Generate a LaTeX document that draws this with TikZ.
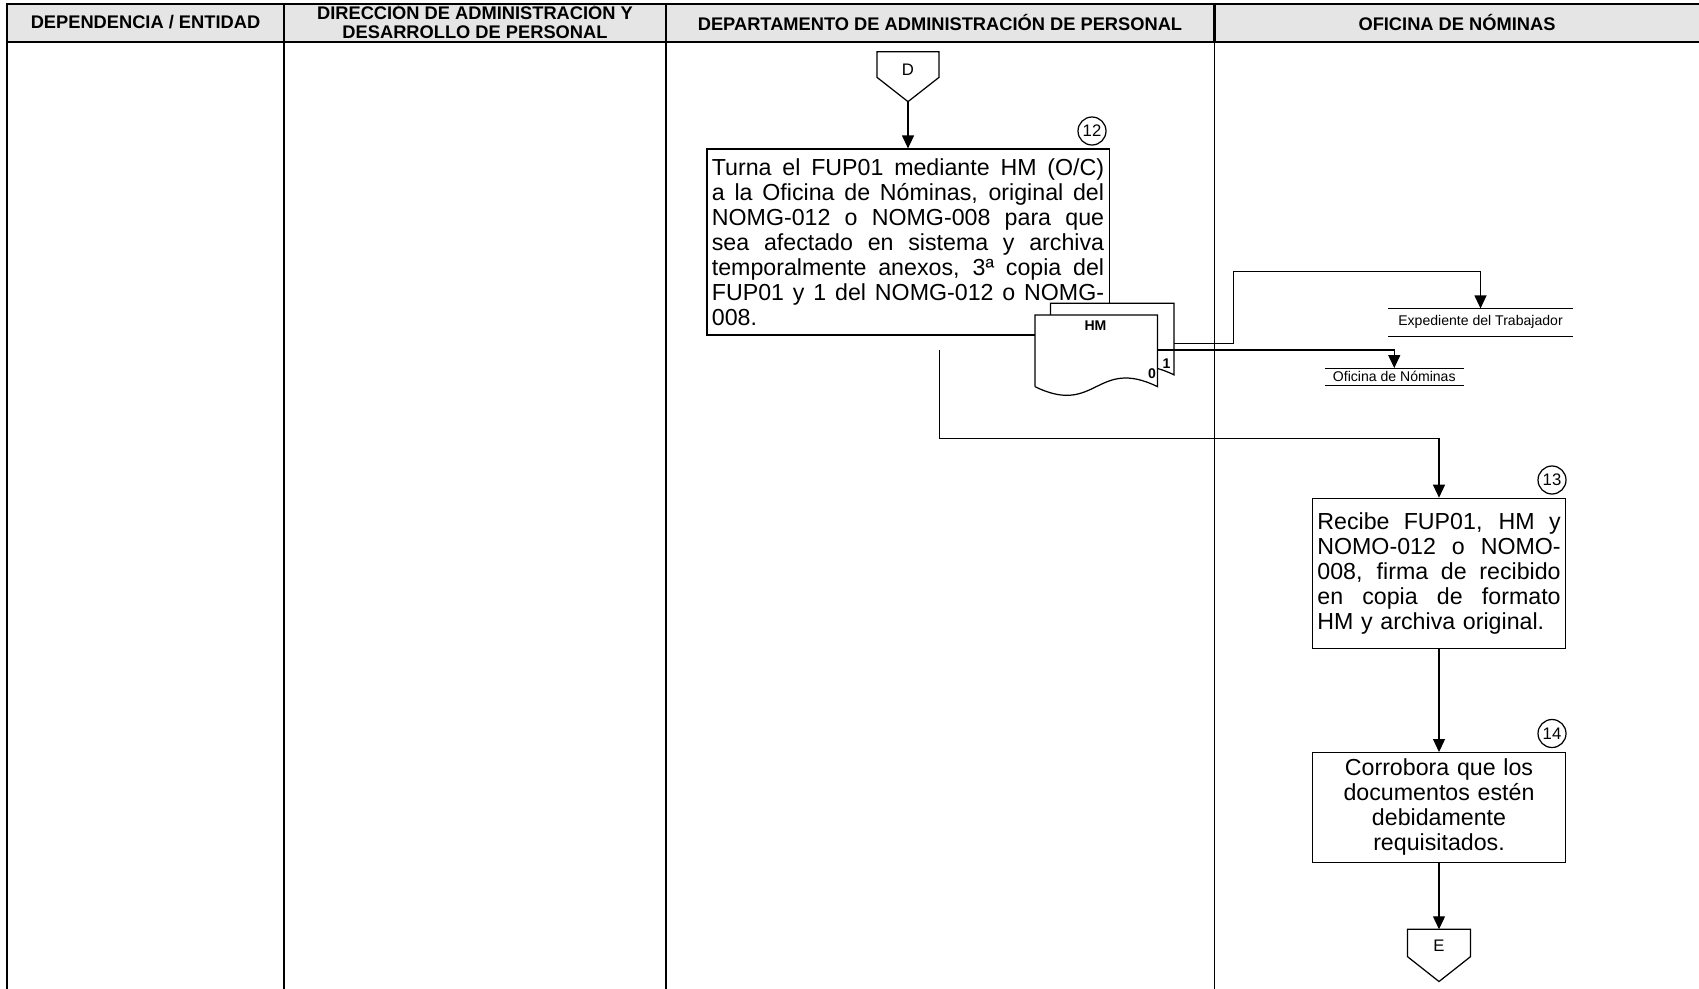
\documentclass[tikz,border=0pt]{standalone}
\usepackage{fontspec}
\setmainfont{Liberation Sans}
\usetikzlibrary{arrows.meta}

\newcommand{\jline}[2]{\makebox[#1][s]{\spaceskip=0.278em plus 2em\relax #2}}

\begin{document}
\begin{tikzpicture}[
    line width=0.7pt,
    arr/.style={-{Triangle[length=0.26cm,width=0.24cm]}},
    box/.style={rectangle, draw, fill=white, inner xsep=0.1cm, inner ysep=0cm, align=left, font=\fontsize{13.2}{14.2}\selectfont},
    head/.style={align=center, inner sep=0pt, font=\bfseries\fontsize{10.4}{10.5}\selectfont},
    num/.style={circle, draw, inner sep=0.5pt, minimum size=0.56cm, font=\fontsize{9.5}{9.5}\selectfont},
    store/.style={inner sep=0pt, font=\fontsize{8}{8}\selectfont},
    tag/.style={inner sep=0pt, font=\fontsize{9.5}{9.5}\selectfont},
    docnum/.style={inner sep=0pt, font=\bfseries\fontsize{8}{8}\selectfont},
]

\useasboundingbox (0,0) rectangle (33.98,-19.76);

% table
\fill[black!10] (0.14,-0.08) rectangle (34.1,-0.845);
\begin{scope}
\clip (0.14,-0.08) rectangle (34.1,-0.845);
\node[head] (h1) at (2.91,-0.45) {DEPENDENCIA / ENTIDAD};
\node[head] (h2) at (9.50,-0.42) {DIRECCIÓN DE ADMINISTRACIÓN Y\\DESARROLLO DE PERSONAL};
\node[head] (h3) at (18.80,-0.45) {DEPARTAMENTO DE ADMINISTRACIÓN DE PERSONAL};
\node[head] (h4) at (29.14,-0.45) {OFICINA DE NÓMINAS};
\end{scope}
\draw[line width=1.2pt] (0.14,-0.845) -- (0.14,-0.08) -- (34.1,-0.08);
\draw[line width=1.2pt] (0.14,-0.845) -- (34.1,-0.845);
\draw[line width=0.6pt] (0.14,-0.845) -- (0.14,-20);
\foreach \x in {5.68,13.32,24.29} {
  \draw[line width=1.2pt] (\x,-0.08) -- (\x,-0.845);
  \draw[line width=0.6pt] (\x,-0.845) -- (\x,-20);
}

% departamento
\draw[fill=white] (17.54,-1.034) -- (18.78,-1.034) -- (18.78,-1.547) -- (18.16,-2.033) -- (17.54,-1.547) -- cycle;
\node[tag] (D) at (18.16,-1.40) {D};
\coordinate (Dtip) at (18.16,-2.033);

\node[box, text width=7.845cm, minimum width=8.045cm, minimum height=3.72cm] (b12) at (18.16,-4.84) {\jline{7.845cm}{Turna el FUP01 mediante HM (O/C)}\\
\jline{7.845cm}{a la Oficina de Nóminas, original del}\\
\jline{7.845cm}{NOMG-012 o NOMG-008 para que}\\
\jline{7.845cm}{sea afectado en sistema y archiva}\\
\jline{7.845cm}{temporalmente anexos, 3ª copia del}\\
\jline{7.845cm}{FUP01 y 1 del NOMG-012 o NOMG-}\\
008.};
\node[num] (n12) at (21.84,-2.62) {12};

\draw[arr] (Dtip) -- (b12);

% HM copias
\draw[fill=white] (21.01,-7.497) -- (21.01,-6.067) -- (23.48,-6.067) -- (23.48,-7.497)
  .. controls (22.245,-6.897) and (22.245,-8.097) .. (21.01,-7.497);
\draw[fill=white] (20.70,-7.733) -- (20.70,-6.299) -- (23.15,-6.299) -- (23.15,-7.733)
  .. controls (21.925,-7.133) and (21.925,-8.333) .. (20.70,-7.733);
\node[docnum] (hm) at (21.91,-6.52) {HM};
\node[docnum] (c0) at (23.04,-7.465) {0};
\node[docnum] (c1) at (23.33,-7.265) {1};
\coordinate (hmb) at (23.48,-6.867);
\coordinate (hmf) at (23.15,-7.0);

\node[store, minimum width=3.66cm, minimum height=0.533cm] (exp) at (29.61,-6.447) {Expediente del Trabajador};
\draw[line width=0.6pt] (exp.north west) -- (exp.north east) (exp.south west) -- (exp.south east);
\node[store, minimum width=2.75cm, minimum height=0.325cm] (ofi) at (27.885,-7.536) {Oficina de Nóminas};
\draw[line width=0.6pt] (ofi.north west) -- (ofi.north east) (ofi.south west) -- (ofi.south east);

\draw[arr] (hmb) -| (24.665,-5.432) -| (exp.north);
\draw[arr] (hmf) -| (ofi.north);

% oficina de nominas
\node[box, text width=4.866cm, minimum width=5.066cm, minimum height=3.0cm] (b13) at (28.78,-11.466) {\jline{4.866cm}{Recibe FUP01, HM y}\\
\jline{4.866cm}{NOMO-012 o NOMO-}\\
\jline{4.866cm}{008, firma de recibido}\\
\jline{4.866cm}{en copia de formato}\\
HM y archiva original.};
\node[num] (n13) at (31.04,-9.60) {13};

\coordinate (b12out) at (18.785,-7.0);
\draw[arr] (b12out) |- (28.78,-8.776) -- (b13);

\node[box, align=center, text width=4.866cm, minimum width=5.066cm, minimum height=2.191cm] (b14) at (28.78,-16.148) {Corrobora que los\\documentos estén\\debidamente\\requisitados.};
\node[num] (n14) at (31.04,-14.67) {14};
\draw[arr] (b13) -- (b14);

\draw[fill=white] (28.15,-18.585) -- (29.41,-18.585) -- (29.41,-19.133) -- (28.78,-19.63) -- (28.15,-19.133) -- cycle;
\node[tag] (E) at (28.78,-18.92) {E};
\coordinate (Etop) at (28.78,-18.585);
\draw[arr] (b14) -- (Etop);

\end{tikzpicture}
\end{document}
